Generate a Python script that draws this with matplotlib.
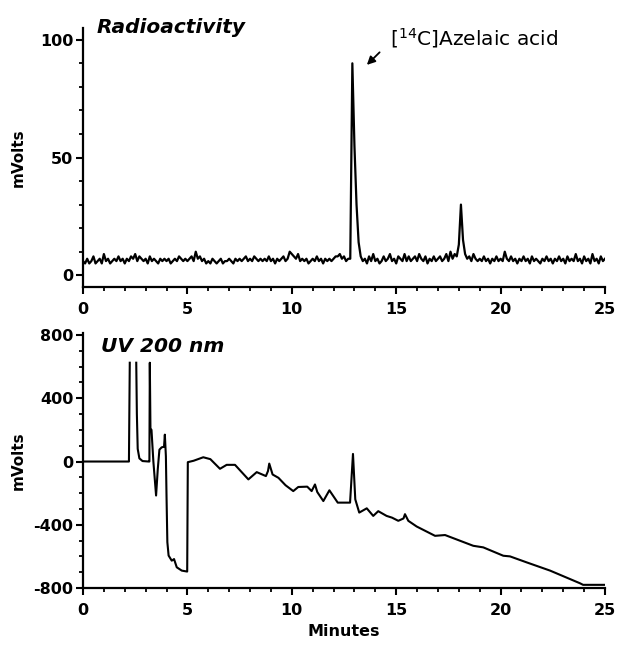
import numpy as np
import matplotlib
matplotlib.use("Agg")
import matplotlib.pyplot as plt
from matplotlib.ticker import MultipleLocator

plt.rcParams["axes.unicode_minus"] = False

# -----------------------------
# DATA
# -----------------------------
# radioactivity detector, one reading every 0.1 min from 0 to 25 min
radio_mv = [
    6, 5, 7, 5, 6, 8, 5, 6, 7, 5,
    9, 6, 7, 5, 6, 7, 6, 8, 6, 7,
    5, 7, 6, 8, 7, 9, 6, 8, 7, 6,
    7, 5, 8, 6, 7, 6, 5, 7, 6, 7,
    6, 7, 5, 6, 7, 6, 8, 7, 6, 7,
    6, 7, 8, 6, 10, 7, 8, 6, 7, 5,
    6, 5, 7, 6, 5, 6, 7, 5, 6, 6,
    7, 6, 5, 7, 6, 7, 6, 7, 8, 6,
    7, 6, 8, 7, 6, 7, 6, 7, 6, 8,
    6, 7, 5, 7, 6, 7, 8, 6, 7, 10,
    9, 8, 7, 9, 6, 7, 6, 7, 5, 6,
    7, 6, 8, 6, 7, 5, 7, 6, 7, 6,
    7, 8, 8, 9, 7, 8, 6, 7, 7, 90,
    55, 30, 14, 8, 6, 7, 5, 8, 6, 9,
    6, 7, 5, 6, 8, 6, 7, 9, 6, 7,
    5, 8, 7, 6, 9, 6, 8, 6, 7, 8,
    6, 9, 7, 6, 8, 5, 7, 6, 8, 6,
    7, 8, 6, 7, 9, 6, 10, 7, 9, 8,
    13, 30, 15, 9, 7, 8, 6, 9, 7, 6,
    7, 6, 8, 6, 7, 5, 7, 6, 8, 6,
    7, 6, 10, 7, 6, 8, 6, 7, 5, 7,
    6, 8, 6, 7, 5, 8, 6, 7, 6, 5,
    7, 6, 8, 6, 7, 5, 7, 6, 8, 6,
    7, 5, 8, 6, 7, 6, 9, 6, 7, 5,
    8, 6, 7, 5, 9, 6, 7, 5, 8, 6,
    7,
]
radio_time = np.linspace(0, 25, len(radio_mv))

# UV 200 nm trace (nan = off-scale gap at the top of the first peak)
nan = float("nan")
uv_time = [0, 2.2, 2.24, nan, 2.55, 2.58, 2.62, 2.7, 2.85, 3.15,
           3.18, 3.2, 3.23, 3.28, 3.37, 3.5, 3.58, 3.66, 3.77, 3.88,
           3.92, 3.97, 4.0, 4.04, 4.1, 4.25, 4.33, 4.36, 4.49, 4.73,
           4.99, 5.02, 5.3, 5.76, 6.1, 6.56, 6.88, 7.28, 7.92, 8.32,
           8.76, 8.86, 8.92, 9.08, 9.36, 9.7, 10.07, 10.31, 10.74, 10.95,
           11.11, 11.22, 11.51, 11.8, 12.2, 12.79, 12.93, 13.04, 13.23, 13.59,
           13.9, 14.14, 14.54, 14.8, 15.1, 15.35, 15.42, 15.58, 15.98, 16.86,
           17.34, 18.69, 19.17, 20.13, 20.45, 21.25, 22.37, 23.8, 23.95, 25]
uv_mv = [0, 0, 625, nan, 625, 300, 80, 20, 3, 0,
         0, 625, 210, 200, 0, -215, -50, 75, 90, 93,
         170, 33, -218, -510, -595, -627, -620, -617, -669, -690,
         -696, -4, 5, 27, 15, -46, -21, -21, -113, -67,
         -92, -60, -13, -82, -103, -150, -187, -161, -159, -187,
         -145, -193, -250, -182, -260, -260, 48, -239, -323, -296,
         -344, -314, -344, -355, -375, -360, -333, -375, -411, -470,
         -465, -533, -543, -596, -600, -638, -690, -770, -780, -780]

X_TICKS = [0, 5, 10, 15, 20, 25]
RADIO_TICKS = [0, 50, 100]
UV_TICKS = [-800, -400, 0, 400, 800]

W, H = 618, 647
TICK_FONT = dict(fontsize=11.5, fontweight="bold")


def style_axis(ax, yticks, yminor):
    ax.spines["top"].set_visible(False)
    ax.spines["right"].set_visible(False)
    for s in ("left", "bottom"):
        ax.spines[s].set_linewidth(1.6)
    ax.set_xlim(0, 25)
    ax.set_xticks(X_TICKS)
    ax.set_yticks(yticks)
    ax.xaxis.set_minor_locator(MultipleLocator(1))
    ax.yaxis.set_minor_locator(MultipleLocator(yminor))
    ax.tick_params(which="major", direction="out", length=5, width=1.5, pad=6)
    ax.tick_params(axis="y", which="major", pad=2)
    ax.tick_params(which="minor", direction="out", length=3, width=1.3)
    for lab in ax.get_xticklabels() + ax.get_yticklabels():
        lab.set_fontsize(TICK_FONT["fontsize"])
        lab.set_fontweight(TICK_FONT["fontweight"])
    ax.set_ylabel("mVolts", fontsize=11, fontweight="bold")
    # both labels sit at the same x in the reference
    ax.yaxis.set_label_coords((26 - 83) / 522, 0.5)


fig = plt.figure(figsize=(W / 100, H / 100), dpi=100)

# -----------------------------
# Radioactivity panel
# -----------------------------
ax1 = fig.add_axes([83 / W, 1 - 287 / H, 522 / W, 259 / H])
ax1.plot(radio_time, radio_mv, color="black", lw=1.6)
ax1.set_ylim(-5, 105)
style_axis(ax1, RADIO_TICKS, 10)
ax1.annotate("", xy=(13.5, 88.5), xytext=(14.3, 95.5),
             arrowprops=dict(arrowstyle="-|>", color="black", lw=1.3,
                             mutation_scale=12))
fig.text(390 / W, 1 - 45 / H, r"[$^{14}$C]Azelaic acid", fontsize=14.5,
         va="baseline", ha="left")
fig.text(97 / W, 1 - 33 / H, "Radioactivity", fontsize=14.5,
         fontweight="bold", fontstyle="italic", va="baseline", ha="left")

# -----------------------------
# UV panel
# -----------------------------
ax2 = fig.add_axes([83 / W, 1 - 588 / H, 522 / W, 255 / H])
ax2.plot(uv_time, uv_mv, color="black", lw=1.5)
ax2.set_ylim(-800, 813)
style_axis(ax2, UV_TICKS, 100)
ax2.set_xlabel("Minutes", fontsize=11.5, fontweight="bold", labelpad=4)
fig.text(101 / W, 1 - 352 / H, "UV 200 nm", fontsize=14.5,
         fontweight="bold", fontstyle="italic", va="baseline", ha="left")

fig.savefig("out.png", dpi=100)
